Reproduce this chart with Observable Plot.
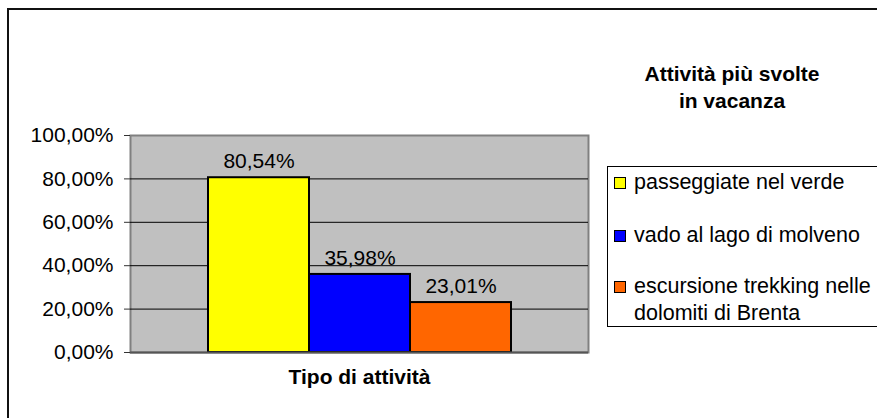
<!DOCTYPE html>
<html>
<head>
<meta charset="utf-8">
<script src="https://cdn.jsdelivr.net/npm/d3@7"></script>
<script src="https://cdn.jsdelivr.net/npm/@observablehq/plot@0.6"></script>
<style>
  html, body { margin: 0; padding: 0; background: #fff; }
  #wrap { position: relative; width: 877px; height: 418px; overflow: hidden; font-family: "Liberation Sans", Arial, sans-serif; color: #000; }
  #outer { position: absolute; left: 7px; top: 8px; width: 900px; height: 440px; border: 2px solid #111; box-sizing: border-box; }
  #chart { position: absolute; left: 0; top: 0; }
  #title { position: absolute; left: 592px; top: 60px; width: 280px; text-align: center; font-weight: bold; font-size: 21px; line-height: 27px; }
  #legend { position: absolute; left: 607px; top: 166px; width: 300px; height: 161px; border: 1px solid #000; box-sizing: border-box; background: #fff; }
  .item { position: absolute; left: 6px; font-size: 21.5px; line-height: 27px; }
  .sw { position: absolute; left: 0; width: 12px; height: 12px; border: 1.5px solid #000; box-sizing: border-box; }
  .lt { position: absolute; left: 20px; white-space: nowrap; }
</style>
</head>
<body>
<div id="wrap">
  <div id="outer"></div>
  <div id="chart"></div>
  <div id="title">Attività più svolte<br>in vacanza</div>
  <div id="legend"></div>
</div>
<script>
const categories = ["passeggiate nel verde", "vado al lago di molveno", "escursione trekking nelle dolomiti di Brenta"];
const legendLines = [["passeggiate nel verde"], ["vado al lago di molveno"], ["escursione trekking nelle", "dolomiti di Brenta"]];
const values = [80.54, 35.98, 23.01];
const colors = ["#ffff00", "#0000ff", "#ff6600"];
const yTicks = [0, 20, 40, 60, 80, 100];
const axisTitle = "Tipo di attività";

const data = categories.map((c, i) => ({ name: c, value: values[i], color: colors[i] }));
const fmt = v => v.toFixed(2).replace(".", ",") + "%";

const chart = Plot.plot({
  width: 877,
  height: 418,
  marginLeft: 130,
  marginRight: 289,
  marginTop: 135,
  marginBottom: 66,
  style: { fontFamily: "'Liberation Sans', Arial, sans-serif", fontSize: "21px", color: "#000", background: "transparent", overflow: "visible" },
  x: { domain: categories, paddingInner: 0, paddingOuter: 0.75, axis: null },
  y: { domain: [0, 100], ticks: yTicks, label: null },
  marks: [
    Plot.frame({ fill: "#c0c0c0", stroke: "#808080", strokeWidth: 2 }),
    Plot.gridY(yTicks.filter(t => t > 0 && t < 100), { stroke: "#000", strokeOpacity: 1, strokeWidth: 1 }),
    Plot.barY(data, { x: "name", y: "value", fill: "color", stroke: "#000", strokeWidth: 2 }),
    Plot.text(data, { x: "name", y: "value", text: d => fmt(d.value), dy: -16, fontSize: 21, fill: "#000" }),
    Plot.axisY(yTicks, { tickFormat: fmt, tickSize: 6, tickPadding: 11, fontSize: 21, stroke: "#333", label: null }),
    Plot.ruleY([0], { stroke: "#555", strokeWidth: 2 }),
    Plot.text([axisTitle], { frameAnchor: "bottom", dy: 31, fontWeight: "bold", fontSize: 21, fill: "#000" })
  ]
});
document.getElementById("chart").appendChild(chart);

const legend = document.getElementById("legend");
const tops = [2, 55, 106];
legendLines.forEach((lines, i) => {
  const it = document.createElement("div");
  it.className = "item";
  it.style.top = tops[i] + "px";
  const sw = document.createElement("div");
  sw.className = "sw";
  sw.style.background = colors[i];
  sw.style.top = "8px";
  it.appendChild(sw);
  const lt = document.createElement("div");
  lt.className = "lt";
  lt.innerHTML = lines.join("<br>");
  it.appendChild(lt);
  legend.appendChild(it);
});
</script>
</body>
</html>
